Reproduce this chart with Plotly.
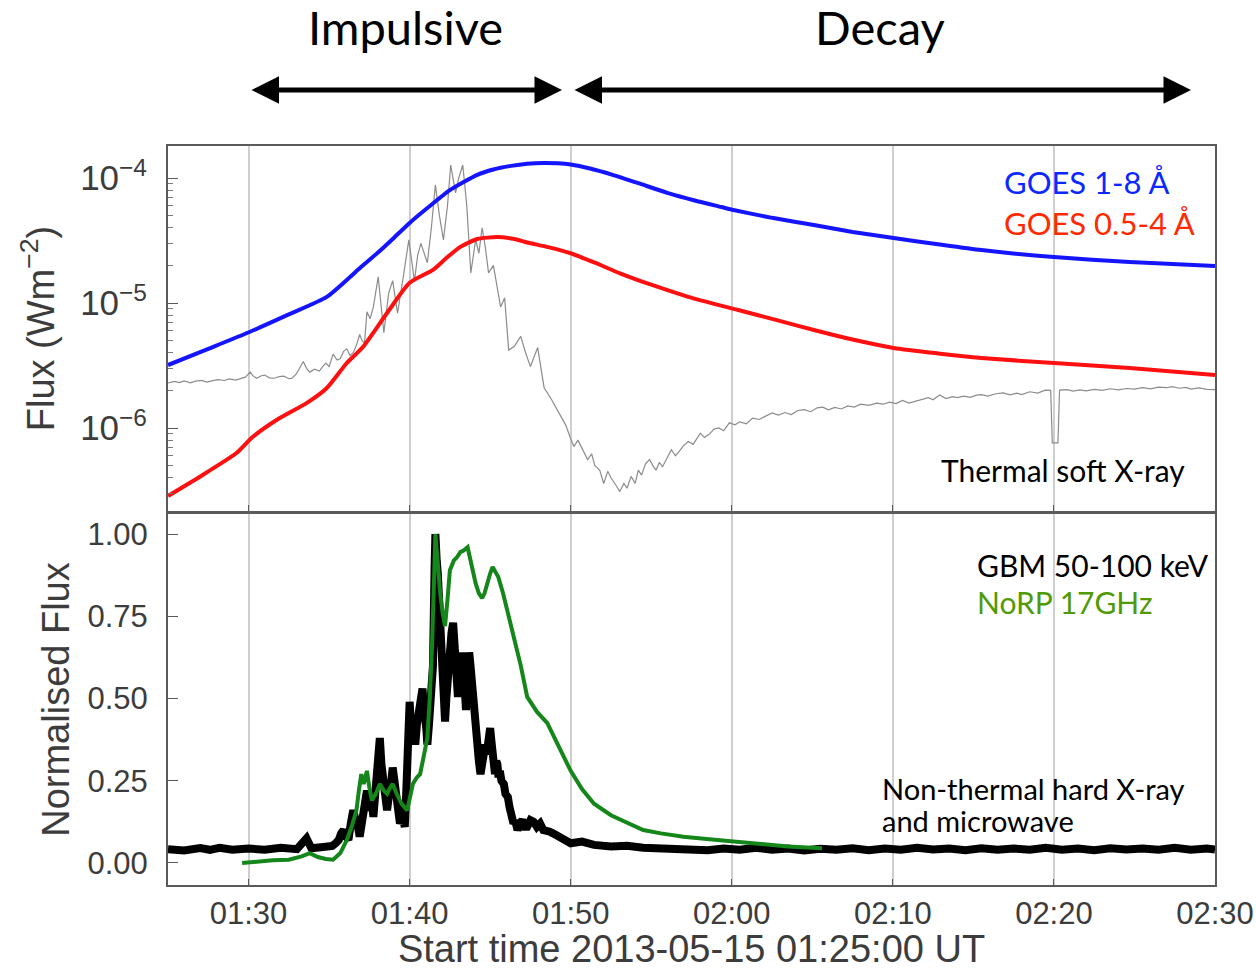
import pandas as pd
import plotly.graph_objects as go
from plotly.subplots import make_subplots

START = pd.Timestamp("2013-05-15 01:25:00")

# ---- GOES 1-8 A (minutes after 01:25, W m^-2)
goes_long_t = [0.0, 2.5, 5.06, 7.5, 9.86, 11.1, 12.0, 13.0, 14.0, 15.0, 16.1, 17.5, 19.2, 20.2, 21.3,
               22.3, 23.3, 24.2, 25.0, 26.2, 27.6, 29.3, 31.0, 32.7, 34.35, 35.1, 37.5, 40.1, 42.5,
               45.05, 47.8, 50.5, 55.0, 59.7, 65.0]
goes_long_f = [3.19e-6, 4.3e-6, 5.86e-6, 8.1e-6, 1.12e-5, 1.53e-5, 1.95e-5, 2.51e-5, 3.3e-5, 4.37e-5,
               5.75e-5, 8.0e-5, 1.06e-4, 1.17e-4, 1.25e-4, 1.30e-4, 1.32e-4, 1.31e-4, 1.28e-4,
               1.19e-4, 1.06e-4, 9.0e-5, 7.6e-5, 6.6e-5, 5.86e-5, 5.55e-5, 4.8e-5, 4.2e-5, 3.7e-5,
               3.31e-5, 2.95e-5, 2.65e-5, 2.33e-5, 2.13e-5, 1.98e-5]

# ---- GOES 0.5-4 A
goes_short_t = [0.0, 1.95, 4.25, 5.25, 6.74, 8.6, 9.86, 11.1, 12.1, 13.6, 15.0, 16.45, 17.3, 18.15,
                19.2, 20.45, 21.5, 22.3, 23.6, 25.0, 26.5, 28.1, 30.0, 32.3, 35.4, 37.8, 40.1, 42.5,
                45.05, 47.8, 50.5, 55.0, 59.7, 65.0]
goes_short_f = [2.86e-7, 4.06e-7, 6.31e-7, 8.47e-7, 1.16e-6, 1.58e-6, 2.09e-6, 3.31e-6, 4.45e-6,
                8.32e-6, 1.45e-5, 1.84e-5, 2.3e-5, 2.81e-5, 3.25e-5, 3.37e-5, 3.25e-5, 3.05e-5,
                2.8e-5, 2.5e-5, 2.1e-5, 1.72e-5, 1.4e-5, 1.12e-5, 8.79e-6, 7.3e-6, 6.08e-6, 5.1e-6,
                4.37e-6, 3.95e-6, 3.63e-6, 3.31e-6, 3.02e-6, 2.65e-6]

# ---- grey curve (scaled, plotted on flux axis)
grey_t = [0.0, 0.4, 0.7, 1.0, 1.4, 1.7, 2.1, 2.4, 2.8, 3.1, 3.5, 3.8, 4.2, 4.5, 4.8, 5.1, 5.3, 5.5,
          5.8, 6.0, 6.3, 6.6, 6.9, 7.2, 7.5, 7.7, 7.95, 8.1, 8.4, 8.6, 8.8, 9.1, 9.4, 9.6, 9.8, 10.0,
          10.25, 10.5, 10.7, 10.9, 11.1, 11.3, 11.5, 11.7, 11.9, 12.05, 12.2, 12.35, 12.55, 12.75,
          13.05, 13.4, 13.7, 13.95, 14.25, 14.6, 14.95, 15.3, 15.5, 15.7, 16.1, 16.35, 16.6, 16.85,
          17.1, 17.35, 17.55, 17.85, 18.05, 18.3, 18.55, 18.8, 19.1, 19.3, 19.5, 19.7, 19.9, 20.2,
          20.45, 20.65, 20.9, 21.15, 21.5, 21.9, 22.2, 22.5, 22.95, 23.35, 23.8, 24.1, 24.4, 24.7,
          25.0, 25.2, 25.45, 25.7, 26.05, 26.3, 26.5, 26.8, 27.05, 27.3, 27.5, 27.8, 28.05, 28.3,
          28.5, 28.75, 29.0, 29.2, 29.4, 29.65, 29.9, 30.1, 30.3, 30.5, 30.7, 31.0, 31.25, 31.5,
          31.7, 32.0, 32.3, 32.6, 33.05, 33.3, 33.6, 33.9, 34.2, 34.5, 34.85, 35.2, 35.5, 35.9,
          36.3, 36.7, 37.1, 37.5, 37.9, 38.3, 38.7, 39.1, 39.5, 39.9, 40.3, 40.65, 41.0, 41.4,
          41.8, 42.2, 42.6, 43.0, 43.5, 44.0, 44.4, 44.8, 45.2, 45.6, 46.0, 46.4, 46.8, 47.2,
          47.5, 47.9, 48.3, 48.7, 49.0, 49.4, 49.8, 50.2, 50.5, 50.9, 51.4, 51.85, 52.3, 52.7,
          53.0, 53.5, 54.0, 54.45, 54.8, 54.9, 55.25, 55.35, 55.8, 56.2, 56.6, 57.0, 57.5, 58.0,
          58.5, 59.0, 59.5, 60.0, 60.5, 61.0, 61.5, 62.0, 62.3, 62.8, 63.2, 63.5, 64.0, 64.5, 65.0]
grey_f = [2.29e-6, 2.36e-6, 2.31e-6, 2.38e-6, 2.30e-6, 2.37e-6, 2.40e-6, 2.33e-6, 2.39e-6, 2.44e-6,
          2.40e-6, 2.47e-6, 2.42e-6, 2.50e-6, 2.55e-6, 2.80e-6, 2.60e-6, 2.50e-6, 2.62e-6, 2.65e-6,
          2.52e-6, 2.50e-6, 2.58e-6, 2.60e-6, 2.48e-6, 2.50e-6, 2.70e-6, 2.90e-6, 3.40e-6, 3.00e-6,
          2.80e-6, 2.95e-6, 2.85e-6, 3.10e-6, 3.30e-6, 3.10e-6, 3.90e-6, 3.50e-6, 3.60e-6, 4.10e-6,
          4.30e-6, 3.80e-6, 4.00e-6, 4.60e-6, 5.60e-6, 5.00e-6, 4.80e-6, 8.5e-6, 7.5e-6, 9.3e-6,
          1.62e-5, 5.8e-6, 1.2e-5, 1.51e-5, 8.3e-6, 1.6e-5, 3.2e-5, 1.5e-5, 2.4e-5, 3.0e-5, 2.1e-5,
          4.0e-5, 8.8e-5, 5.0e-5, 3.2e-5, 6.0e-5, 1.27e-4, 7.6e-5, 1.0e-4, 1.27e-4, 6.0e-5, 1.74e-5,
          3.2e-5, 2.5e-5, 4.0e-5, 2.8e-5, 1.74e-5, 2.0e-5, 1.34e-5, 9.3e-6, 1.1e-5, 4.2e-6, 4.5e-6,
          5.4e-6, 4.0e-6, 3.1e-6, 4.4e-6, 2.1e-6, 1.7e-6, 1.45e-6, 1.23e-6, 1.05e-6, 8.2e-7, 7.1e-7,
          8.0e-7, 6.9e-7, 5.6e-7, 6.2e-7, 5.0e-7, 4.6e-7, 3.6e-7, 4.5e-7, 4.0e-7, 3.5e-7, 3.1e-7,
          3.6e-7, 3.3e-7, 4.1e-7, 3.6e-7, 4.6e-7, 4.2e-7, 5.2e-7, 5.6e-7, 5.0e-7, 4.6e-7, 5.3e-7,
          4.9e-7, 5.8e-7, 6.7e-7, 6.0e-7, 6.4e-7, 7.2e-7, 7.8e-7, 7.4e-7, 9.1e-7, 8.4e-7, 8.9e-7,
          9.8e-7, 1.0e-6, 9.5e-7, 1.1e-6, 1.06e-6, 1.12e-6, 1.08e-6, 1.2e-6, 1.17e-6, 1.25e-6,
          1.32e-6, 1.27e-6, 1.33e-6, 1.28e-6, 1.38e-6, 1.40e-6, 1.35e-6, 1.45e-6, 1.47e-6, 1.40e-6,
          1.46e-6, 1.42e-6, 1.50e-6, 1.47e-6, 1.55e-6, 1.52e-6, 1.58e-6, 1.55e-6, 1.61e-6, 1.57e-6,
          1.66e-6, 1.58e-6, 1.63e-6, 1.68e-6, 1.75e-6, 1.68e-6, 1.84e-6, 1.72e-6, 1.78e-6, 1.75e-6,
          1.80e-6, 1.76e-6, 1.83e-6, 1.85e-6, 1.80e-6, 1.88e-6, 1.91e-6, 1.84e-6, 1.90e-6, 1.85e-6,
          1.95e-6, 1.90e-6, 2.01e-6, 2.00e-6, 7.6e-7, 7.6e-7, 2.01e-6, 2.03e-6, 1.97e-6, 2.02e-6,
          1.98e-6, 2.04e-6, 2.00e-6, 2.06e-6, 2.02e-6, 2.07e-6, 2.05e-6, 2.10e-6, 2.06e-6, 2.12e-6,
          2.10e-6, 2.14e-6, 2.08e-6, 2.11e-6, 2.05e-6, 2.09e-6, 2.04e-6, 2.03e-6]

# ---- GBM 50-100 keV (normalised)
gbm_t = [0.0, 1.0, 2.0, 2.6, 3.2, 4.0, 5.0, 6.0, 7.0, 8.0, 8.6, 8.9, 9.5, 10.2, 10.4, 10.6, 10.75,
         10.9, 11.05, 11.2, 11.35, 11.5, 11.65, 11.75, 11.9, 12.0, 12.1, 12.2, 12.35, 12.45, 12.55,
         12.65, 12.75, 12.85, 12.95, 13.05, 13.15, 13.25, 13.35, 13.45, 13.6, 13.7, 13.8, 13.95,
         14.05, 14.15, 14.3, 14.4, 14.55, 14.7, 14.78, 14.85, 14.92, 15.0, 15.08, 15.15, 15.25,
         15.35, 15.45, 15.6, 15.7, 15.8, 15.9, 15.95, 16.05, 16.1, 16.2, 16.25, 16.35, 16.45, 16.55,
         16.6, 16.68, 16.75, 16.82, 16.9, 16.98, 17.05, 17.12, 17.2, 17.28, 17.35, 17.42, 17.5,
         17.6, 17.7, 17.78, 17.85, 17.92, 18.0, 18.08, 18.15, 18.22, 18.3, 18.4, 18.5, 18.6, 18.7,
         18.78, 18.85, 18.92, 19.0, 19.1, 19.2, 19.3, 19.4, 19.48, 19.55, 19.62, 19.7, 19.78, 19.85,
         19.92, 20.0, 20.08, 20.15, 20.22, 20.3, 20.38, 20.45, 20.52, 20.6, 20.7, 20.85, 20.95,
         21.1, 21.2, 21.3, 21.38, 21.45, 21.55, 21.7, 21.85, 22.0, 22.15, 22.3, 22.5, 22.7, 22.9,
         23.1, 23.3, 23.5, 23.7, 23.9, 24.1, 24.4, 24.7, 25.0, 25.7, 26.45, 27.5, 28.5, 29.5, 30.6,
         31.5, 32.5, 33.5, 34.5, 35.5, 36.5, 37.5, 38.5, 39.5, 40.5, 41.5, 42.5, 43.5, 44.5, 45.5,
         46.5, 47.5, 48.5, 49.5, 50.5, 51.5, 52.5, 53.5, 54.5, 55.5, 56.5, 57.5, 58.5, 59.5, 60.5,
         61.5, 62.5, 63.5, 64.5, 65.0]
gbm_v = [0.042, 0.038, 0.045, 0.040, 0.046, 0.040, 0.044, 0.040, 0.046, 0.042, 0.075, 0.045, 0.048,
         0.052, 0.06, 0.07, 0.09, 0.10, 0.08, 0.07, 0.12, 0.16, 0.13, 0.12, 0.08, 0.11, 0.15, 0.19,
         0.22, 0.18, 0.16, 0.19, 0.14, 0.20, 0.25, 0.32, 0.38, 0.30, 0.25, 0.20, 0.16, 0.20, 0.22,
         0.29, 0.25, 0.20, 0.15, 0.12, 0.14, 0.11, 0.20, 0.30, 0.42, 0.49, 0.42, 0.40, 0.44, 0.36,
         0.42, 0.48, 0.50, 0.53, 0.46, 0.45, 0.40, 0.36, 0.42, 0.45, 0.50, 0.60, 0.90, 1.00, 0.92,
         0.88, 0.80, 0.77, 0.62, 0.55, 0.50, 0.43, 0.50, 0.55, 0.62, 0.67, 0.70, 0.73, 0.66, 0.60,
         0.55, 0.505, 0.56, 0.58, 0.62, 0.64, 0.55, 0.465, 0.55, 0.64, 0.60, 0.55, 0.50, 0.44, 0.40,
         0.35, 0.31, 0.27, 0.31, 0.30, 0.34, 0.36, 0.33, 0.38, 0.40, 0.41, 0.37, 0.33, 0.30, 0.27,
         0.31, 0.30, 0.26, 0.28, 0.25, 0.24, 0.21, 0.20, 0.17, 0.15, 0.13, 0.12, 0.13, 0.10, 0.12,
         0.13, 0.11, 0.11, 0.13, 0.125, 0.11, 0.12, 0.10, 0.10, 0.095, 0.09, 0.085, 0.075, 0.07,
         0.06, 0.065, 0.055, 0.05, 0.052, 0.046, 0.045, 0.040, 0.045, 0.039, 0.044, 0.040, 0.046,
         0.040, 0.044, 0.038, 0.043, 0.040, 0.045, 0.039, 0.044, 0.040, 0.046, 0.041, 0.044, 0.039,
         0.045, 0.040, 0.044, 0.040, 0.046, 0.040, 0.044, 0.039, 0.045, 0.041, 0.044, 0.040, 0.046,
         0.040, 0.044, 0.041]

# ---- NoRP 17 GHz (normalised)
norp_t = [4.6, 5.5, 6.5, 7.5, 8.3, 8.8, 9.3, 9.8, 10.25, 10.7, 11.1, 11.4, 11.7, 11.85, 12.0, 12.15,
          12.35, 12.5, 12.65, 12.9, 13.15, 13.4, 13.6, 13.8, 13.95, 14.2, 14.5, 14.85, 15.0, 15.2,
          15.45, 15.65, 15.9, 16.1, 16.25, 16.4, 16.6, 16.75, 16.9, 17.05, 17.2, 17.35, 17.5, 17.75,
          17.95, 18.15, 18.35, 18.6, 18.85, 19.1, 19.3, 19.5, 19.65, 19.8, 20.0, 20.15, 20.5, 20.8,
          21.1, 21.45, 21.9, 22.3, 22.9, 23.55, 24.2, 25.0, 25.7, 26.45, 27.5, 28.55, 29.5, 30.6,
          32.0, 34.1, 36.5, 38.5, 40.6]
norp_v = [0.00, 0.005, 0.008, 0.01, 0.02, 0.03, 0.018, 0.012, 0.01, 0.03, 0.07, 0.11, 0.16, 0.22,
          0.27, 0.24, 0.28, 0.23, 0.19, 0.21, 0.24, 0.22, 0.21, 0.23, 0.24, 0.21, 0.18, 0.16, 0.19,
          0.24, 0.26, 0.27, 0.33, 0.38, 0.50, 0.67, 1.00, 0.90, 0.82, 0.76, 0.72, 0.80, 0.89, 0.92,
          0.93, 0.945, 0.95, 0.96, 0.90, 0.85, 0.82, 0.805, 0.82, 0.85, 0.88, 0.90, 0.87, 0.82,
          0.76, 0.69, 0.60, 0.505, 0.46, 0.425, 0.36, 0.28, 0.225, 0.18, 0.145, 0.12, 0.10, 0.09,
          0.08, 0.07, 0.06, 0.05, 0.045]

x_tick_labels = ["01:30", "01:40", "01:50", "02:00", "02:10", "02:20", "02:30"]
y_top_ticks = [1e-4, 1e-5, 1e-6]
y_top_labels = ["10<sup>\u22124</sup>", "10<sup>\u22125</sup>", "10<sup>\u22126</sup>"]
y_top_minor = [m * 10.0 ** e for e in (-7, -6, -5) for m in range(2, 10)] + [2e-4]
y_bot_ticks = [0.0, 0.25, 0.5, 0.75, 1.0]
y_bot_labels = ["0.00", "0.25", "0.50", "0.75", "1.00"]


def to_time(ts):
    return START + pd.to_timedelta(ts, unit="min")


fig = make_subplots(rows=2, cols=1, shared_xaxes=True, vertical_spacing=0.004)

fig.add_trace(go.Scatter(x=to_time(grey_t), y=grey_f, mode="lines",
                         line=dict(color="#8c8c8c", width=1.2), showlegend=False), row=1, col=1)
fig.add_trace(go.Scatter(x=to_time(goes_long_t), y=goes_long_f, mode="lines",
                         line=dict(color="#1414ff", width=4, shape="spline", smoothing=0.6),
                         showlegend=False), row=1, col=1)
fig.add_trace(go.Scatter(x=to_time(goes_short_t), y=goes_short_f, mode="lines",
                         line=dict(color="#ff1010", width=4, shape="spline", smoothing=0.6),
                         showlegend=False), row=1, col=1)

fig.add_trace(go.Scatter(x=to_time(gbm_t), y=gbm_v, mode="lines",
                         line=dict(color="black", width=8), showlegend=False), row=2, col=1)
fig.add_trace(go.Scatter(x=to_time(norp_t), y=norp_v, mode="lines",
                         line=dict(color="#15861a", width=4), showlegend=False), row=2, col=1)

tick_font = dict(family="Liberation Sans, Arial, sans-serif", size=31, color="#3c3c3c")
tick_font_log = dict(family="Liberation Sans, Arial, sans-serif", size=35, color="#3c3c3c")
title_font = dict(family="Liberation Sans, Arial, sans-serif", size=38, color="#3c3c3c")
frame = dict(showline=True, linecolor="#5a5a5a", linewidth=2, mirror=True)

tickvals_x = [START + pd.Timedelta(minutes=5 + 10 * i) for i in range(len(x_tick_labels))]
xrange = [START, START + pd.Timedelta(minutes=65)]

L, R, T, B = 168, 41, 146, 85
W, H = 1256, 970
pw, ph = W - L - R, H - T - B


def px(x):
    return (x - L) / pw


def py(y):
    return (H - B - y) / ph


fig.update_xaxes(range=xrange, tickvals=tickvals_x, ticktext=x_tick_labels, automargin=False,
                 showgrid=True, gridcolor="#cfcfcf", gridwidth=1.5,
                 ticks="inside", ticklen=6, tickcolor="#5a5a5a", zeroline=False, **frame)
fig.update_xaxes(showticklabels=False, row=1, col=1)
fig.update_xaxes(showticklabels=True, tickfont=tick_font, ticklabelstandoff=0,
                 title=dict(text="Start time 2013-05-15 01:25:00 UT", font=title_font, standoff=2),
                 row=2, col=1)

fig.update_yaxes(type="log", range=[-6.664, -3.744], tickvals=y_top_ticks, ticktext=y_top_labels,
                 domain=[py(511), 1.0], automargin=False,
                 ticks="inside", ticklen=10, tickcolor="#5a5a5a", tickfont=tick_font_log,
                 ticklabelstandoff=12, showgrid=False, zeroline=False,
                 minor=dict(ticks="inside", ticklen=5, tickcolor="#7a7a7a", showgrid=False,
                            tickvals=y_top_minor),
                 title=dict(text="Flux (Wm<sup>\u22122</sup>)", font=title_font, standoff=14),
                 row=1, col=1, **frame)
fig.update_yaxes(range=[-0.067, 1.061], tickvals=y_bot_ticks, ticktext=y_bot_labels,
                 domain=[0.0, py(514)], automargin=False,
                 ticks="inside", ticklen=10, tickcolor="#5a5a5a", tickfont=tick_font,
                 ticklabelstandoff=12, showgrid=False, zeroline=False,
                 title=dict(text="Normalised Flux", font=title_font, standoff=6),
                 row=2, col=1, **frame)

lab_font = "Lato, Noto Sans, sans-serif"
annos = [
    dict(text="Impulsive", x=px(405), y=py(27), size=47, color="black", xanchor="center"),
    dict(text="Decay", x=px(880), y=py(27), size=47, color="black", xanchor="center"),
    dict(text="GOES 1-8 \u00c5", x=px(1002), y=py(182), size=31, color="#0a28ff", xanchor="left"),
    dict(text="GOES 0.5-4 \u00c5", x=px(1002), y=py(223), size=31, color="#ff2a00", xanchor="left"),
    dict(text="Thermal soft X-ray", x=px(939), y=py(470), size=30, color="black", xanchor="left"),
    dict(text="GBM 50-100 keV", x=px(975), y=py(565), size=30, color="black", xanchor="left"),
    dict(text="NoRP 17GHz", x=px(975), y=py(602), size=30, color="#4f9a06", xanchor="left"),
    dict(text="Non-thermal hard X-ray", x=px(880), y=py(788), size=29, color="black", xanchor="left"),
    dict(text="and microwave", x=px(880), y=py(820), size=29, color="black", xanchor="left"),
]
for a in annos:
    fig.add_annotation(text=a["text"], x=a["x"], y=a["y"], xref="paper", yref="paper",
                       xanchor=a["xanchor"], yanchor="middle", showarrow=False,
                       font=dict(family=lab_font, size=a["size"], color=a["color"]))

for x0, x1 in [(250, 562), (573, 1191)]:
    fig.add_annotation(text="", x=px(x1), y=py(90), ax=x0 - x1, ay=0,
                       xref="paper", yref="paper", axref="pixel", ayref="pixel",
                       showarrow=True, arrowhead=2, arrowside="end+start",
                       arrowsize=1.1, arrowwidth=5, arrowcolor="black",
                       startarrowhead=2, startarrowsize=1.1)

fig.update_layout(width=W, height=H, margin=dict(l=L, r=R, t=T, b=B, autoexpand=False),
                  plot_bgcolor="white", paper_bgcolor="white", showlegend=False)

fig.write_html("out.html")
